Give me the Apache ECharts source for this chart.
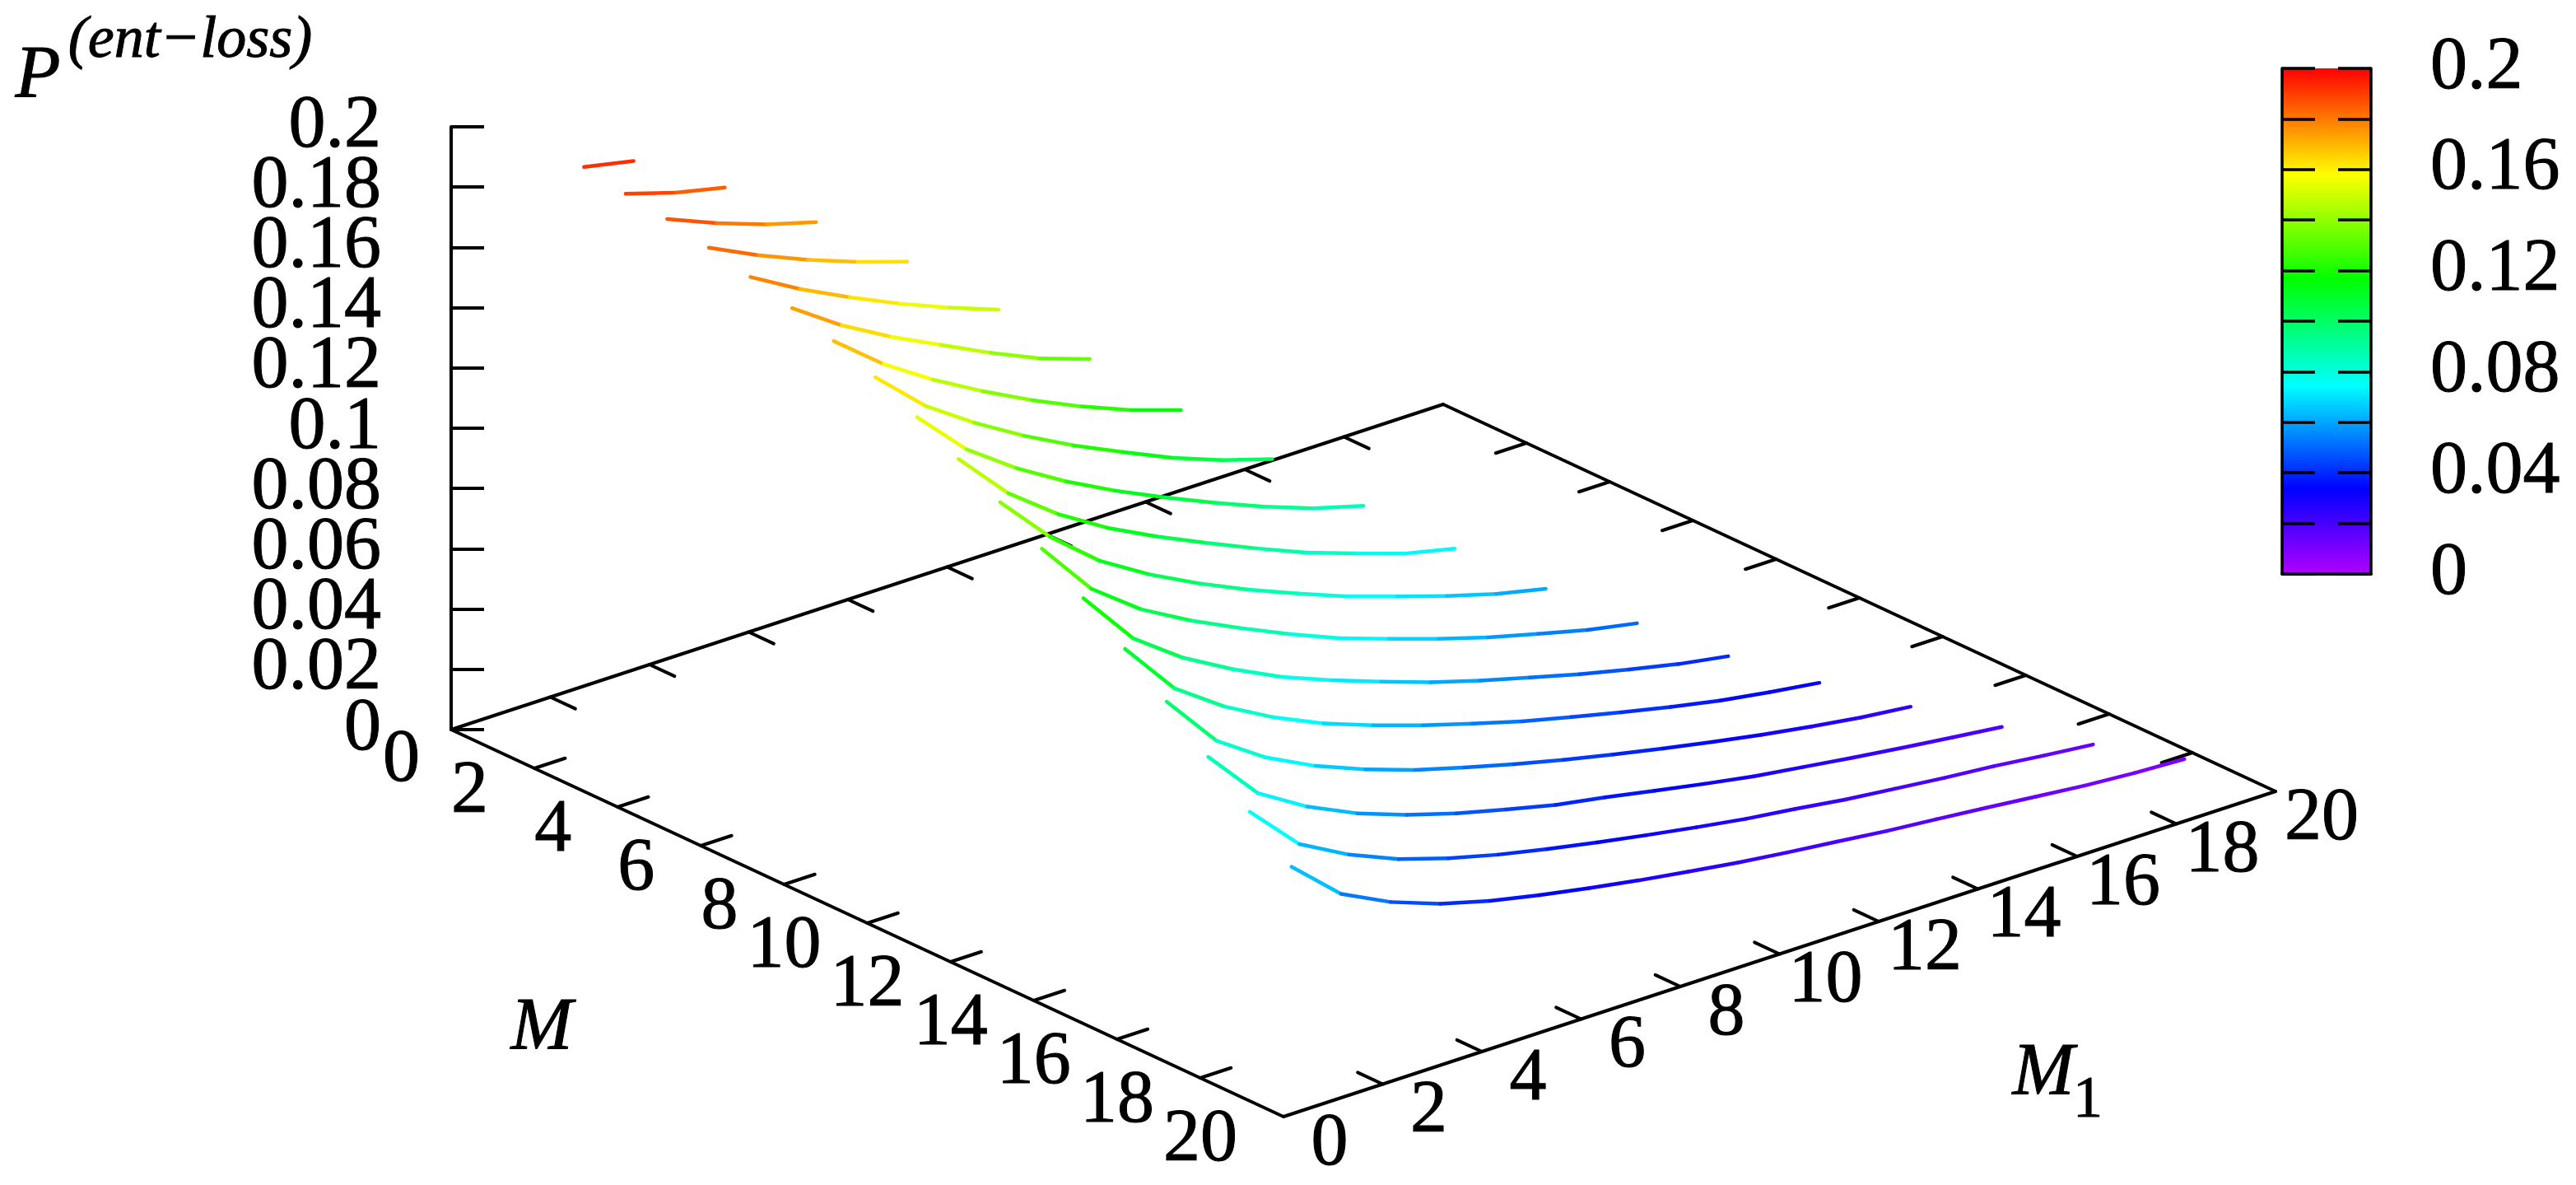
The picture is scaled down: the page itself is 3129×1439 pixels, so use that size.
<!DOCTYPE html>
<html><head><meta charset="utf-8">
<style>html,body{margin:0;padding:0;background:#fff}#c{width:3129px;height:1439px}</style>
<script src="https://cdn.jsdelivr.net/npm/echarts@6/dist/echarts.min.js"></script>
</head><body><div id="c"></div>
<script>
// P^(ent-loss), one list per M; the i-th value belongs to M1 = i+1
const lossM2  = [.1941,.1907];
const lossM3  = [.1917,.1866,.1829];
const lossM4  = [.1897,.1829,.1771,.1725];
const lossM5  = [.1866,.1787,.1718,.1657,.1604];
const lossM6  = [.1833,.1739,.1658,.1583,.1516,.1455];
const lossM7  = [.1794,.1683,.1591,.1510,.1430,.1357,.1301];
const lossM8  = [.1749,.1619,.1513,.1421,.1337,.1262,.1196,.1142];
const lossM9  = [.1693,.1545,.1434,.1337,.1251,.1175,.1102,.1040,.0990];
const lossM10 = [.1625,.1464,.1348,.1250,.1165,.1089,.1017,.0950,.0891,.0845];
const lossM11 = [.1550,.1383,.1260,.1160,.1077,.1002,.0930,.0862,.0805,.0751,.0713];
const lossM12 = [.1471,.1303,.1169,.1070,.0986,.0911,.0844,.0781,.0727,.0674,.0627,.0590];
const lossM13 = [.1381,.1194,.1072,.0981,.0902,.0828,.0760,.0704,.0650,.0601,.0559,.0518,.0486];
const lossM14 = [.1281,.1094,.0976,.0884,.0804,.0739,.0680,.0624,.0576,.0532,.0489,.0451,.0415,.0387];
const lossM15 = [.1177,.0992,.0878,.0788,.0714,.0654,.0600,.0551,.0505,.0465,.0427,.0391,.0358,.0332,.0309];
const lossM16 = [.1066,.0883,.0773,.0691,.0626,.0570,.0524,.0481,.0441,.0405,.0371,.0339,.0309,.0282,.0258,.0240];
const lossM17 = [.0947,.0773,.0674,.0598,.0539,.0490,.0449,.0410,.0381,.0349,.0318,.0289,.0266,.0243,.0222,.0202,.0183];
const lossM18 = [.0829,.0668,.0579,.0510,.0459,.0417,.0382,.0350,.0320,.0292,.0266,.0245,.0222,.0204,.0186,.0171,.0152,.0135];
const lossM19 = [.0711,.0567,.0486,.0426,.0382,.0347,.0316,.0288,.0263,.0239,.0219,.0201,.0182,.0167,.0151,.0134,.0117,.0105,.0097];
const curves = [lossM2,lossM3,lossM4,lossM5,lossM6,lossM7,lossM8,lossM9,lossM10,lossM11,lossM12,lossM13,lossM14,lossM15,lossM16,lossM17,lossM18,lossM19];

const baseTicks = [0,2,4,6,8,10,12,14,16,18,20];
const zTicks = [0,0.02,0.04,0.06,0.08,0.1,0.12,0.14,0.16,0.18,0.2];
const barLabels = [0,0.04,0.08,0.12,0.16,0.2];
const baseMax = 20, zMax = 0.2, zStep = 0.02;
const paletteStops  = [0,0.0335,0.0743,0.1166,0.158,0.2];
const paletteColors = [[176,0,255],[0,0,255],[0,255,255],[0,255,0],[255,255,0],[255,0,0]];

// orthographic view of the 3-D box
const O = [548,886], eM = [50.55,23.5], eM1 = [60.25,-19.75], eZ = 3660;
const project = (m,m1,p) => [O[0]+m*eM[0]+m1*eM1[0], O[1]+m*eM[1]+m1*eM1[1]-p*eZ];

function colorOf(p){
  let i = 0;
  while(i < paletteStops.length-2 && p > paletteStops[i+1]) i++;
  const t = Math.min(1,Math.max(0,(p-paletteStops[i])/(paletteStops[i+1]-paletteStops[i])));
  const a = paletteColors[i], b = paletteColors[i+1];
  return 'rgb('+a.map((v,k)=>Math.round(v+(b[k]-v)*t)).join(',')+')';
}

const segData = [];
curves.forEach((vals,idx)=>{
  const m = idx+2;
  for(let i=0;i<vals.length-1;i++) segData.push([m,i+1,vals[i],m,i+2,vals[i+1]]);
});
// box edges and ticks, [M,M1,P, M,M1,P]
const T = 0.62, TM = 0.6;
const frame = [[0,0,0,baseMax,0,0],[baseMax,0,0,baseMax,baseMax,0],[baseMax,baseMax,0,0,baseMax,0],[0,baseMax,0,0,0,0]];
baseTicks.slice(1,-1).forEach(v=>{
  frame.push([v,0,0,v,T,0]);
  frame.push([v,baseMax,0,v,baseMax-T,0]);
  frame.push([baseMax,v,0,baseMax-TM,v,0]);
  frame.push([0,v,0,TM,v,0]);
});
const FONT = 'Liberation Serif';
const lineItem = (api,w,color)=>{
  const pa = api.coord(project(api.value(0),api.value(1),api.value(2)));
  const pb = api.coord(project(api.value(3),api.value(4),api.value(5)));
  return {type:'line',shape:{x1:pa[0],y1:pa[1],x2:pb[0],y2:pb[1]},style:{stroke:color,lineWidth:w,lineCap:'round'}};
};
const bold = {stroke:'#000',lineWidth:1};
const textItem = (pos,text,align)=>({type:'text',style:Object.assign({x:pos[0],y:pos[1],text:String(text),fill:'#000',
  font:'90px "'+FONT+'"',textAlign:align,textVerticalAlign:'middle',align:align,verticalAlign:'middle'},bold)});
const note = (x,y,text,font)=>({type:'text',z:20,style:Object.assign({x,y,text,font,fill:'#000',textAlign:'center',
  textVerticalAlign:'middle',align:'center',verticalAlign:'middle'},bold)});

const zAxisBase = {type:'value',min:0,max:zMax,interval:zStep,z:10};
const lineS = {show:true,lineStyle:{color:'#000',width:3.5}};
const tickIn = {show:true,inside:true,length:40,lineStyle:{color:'#000',width:3.5}};

const chart = echarts.init(document.getElementById('c'),null,{renderer:'canvas',width:3129,height:1439});
chart.setOption({
  animation:false,backgroundColor:'#fff',
  grid:[
    {left:0,top:0,width:3129,height:1439},
    {left:548,top:154,width:1,height:732},
    {left:2772,top:83,width:108,height:614}
  ],
  xAxis:[
    {gridIndex:0,type:'value',min:0,max:3129,show:false},
    {gridIndex:1,type:'value',min:0,max:1,show:false},
    {gridIndex:2,type:'value',min:0,max:1,position:'bottom',z:10,axisLine:lineS,axisTick:{show:false},axisLabel:{show:false},splitLine:{show:false}},
    {gridIndex:2,type:'value',min:0,max:1,position:'top',z:10,axisLine:lineS,axisTick:{show:false},axisLabel:{show:false},splitLine:{show:false}}
  ],
  yAxis:[
    {gridIndex:0,type:'value',min:0,max:1439,inverse:true,show:false},
    Object.assign({},zAxisBase,{gridIndex:1,position:'left',
      axisLine:{show:true,onZero:false,lineStyle:{color:'#000',width:4}},
      axisTick:{show:true,inside:true,length:40,lineStyle:{color:'#000',width:4}},splitLine:{show:false},axisLabel:{show:false}}),
    Object.assign({},zAxisBase,{gridIndex:2,position:'left',axisLine:Object.assign({onZero:false},lineS),axisTick:tickIn,
      axisLabel:{show:false},splitLine:{show:false}}),
    Object.assign({},zAxisBase,{gridIndex:2,position:'right',axisLine:Object.assign({onZero:false},lineS),axisTick:tickIn,splitLine:{show:false},
      axisLabel:{show:false}})
  ],
  series:[
    {type:'custom',xAxisIndex:0,yAxisIndex:0,coordinateSystem:'cartesian2d',clip:false,z:3,silent:true,data:frame,
      renderItem:(p,api)=>lineItem(api,4,'#000')},
    {type:'custom',xAxisIndex:0,yAxisIndex:0,coordinateSystem:'cartesian2d',clip:false,z:5,silent:true,data:segData,
      renderItem:(p,api)=>lineItem(api,4.5,colorOf((api.value(2)+api.value(5))/2))},
    {type:'custom',xAxisIndex:0,yAxisIndex:0,coordinateSystem:'cartesian2d',clip:false,z:6,silent:true,data:baseTicks.map(v=>[v]),
      renderItem:(p,api)=>{
        const v = api.value(0);
        const q = project(v,0,0);
        const off = v===0 ? [-38,38] : [-56,29];
        return textItem(api.coord([q[0]+off[0],q[1]+off[1]]),v,'right');
      }},
    {type:'custom',xAxisIndex:0,yAxisIndex:0,coordinateSystem:'cartesian2d',clip:false,z:6,silent:true,data:baseTicks.map(v=>[v]),
      renderItem:(p,api)=>{
        const v = api.value(0);
        const q = project(baseMax,v,0);
        return textItem(api.coord([q[0]+56,q[1]+34]),v,'center');
      }},
    {type:'custom',xAxisIndex:1,yAxisIndex:1,coordinateSystem:'cartesian2d',clip:false,z:6,silent:true,data:zTicks.map(v=>[0,v]),
      renderItem:(p,api)=>{
        const c = api.coord([0,api.value(1)]);
        return textItem([c[0]-85,c[1]],api.value(1),'right');
      }},
    {type:'custom',xAxisIndex:2,yAxisIndex:3,coordinateSystem:'cartesian2d',clip:false,z:6,silent:true,data:barLabels.map(v=>[1,v]),
      renderItem:(p,api)=>{
        const c = api.coord([1,api.value(1)]);
        return textItem([c[0]+72,c[1]],api.value(1),'left');
      }},
    {type:'custom',xAxisIndex:2,yAxisIndex:2,coordinateSystem:'cartesian2d',clip:false,z:2,silent:true,data:[[0,0,1,zMax]],
      renderItem:(p,api)=>{
        const a = api.coord([0,0]), b = api.coord([1,zMax]);
        return {type:'rect',shape:{x:a[0],y:b[1],width:b[0]-a[0],height:a[1]-b[1]},
          style:{fill:new echarts.graphic.LinearGradient(0,1,0,0,
            paletteStops.map((s,i)=>({offset:s/zMax,color:'rgb('+paletteColors[i].join(',')+')'})))}};
      }}
  ],
  graphic:[
    note(46,94,'P','italic 90px "'+FONT+'"'),
    note(231,50,'(ent\u2212loss)','italic 72px "'+FONT+'"'),
    note(658,1250,'M','italic 90px "'+FONT+'"'),
    note(2482,1305,'M','italic 90px "'+FONT+'"'),
    note(2536,1337,'1','72px "'+FONT+'"')
  ]
});
</script></body></html>
